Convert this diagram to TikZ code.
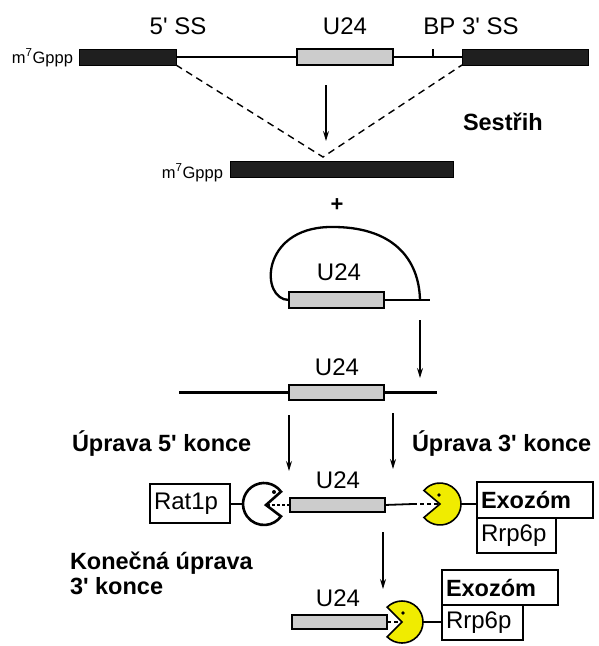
\documentclass[tikz,border=0pt]{standalone}
\usepackage{fontspec}
\setmainfont{Liberation Sans}[Ligatures=TeXOff]
\usetikzlibrary{arrows.meta,calc}
\definecolor{pacyellow}{RGB}{240,236,0}
\begin{document}
\begin{tikzpicture}[x=1pt,y=-1pt,
  every node/.style={inner sep=0pt, outer sep=0pt},
  lab/.style={font=\fontsize{24}{28}\selectfont},
  blab/.style={font=\bfseries\fontsize{23.5}{25}\selectfont, anchor=base west},
  capt/.style={font=\fontsize{16.5}{18}\selectfont, anchor=base east},
  exon/.style={draw=black, fill=black!88, line width=1pt, minimum height=16pt},
  snobox/.style={draw=black, fill=black!20, line width=2pt, minimum height=14pt, minimum width=95pt},
  rna/.style={line width=2.3pt},
  splice/.style={dash pattern=on 7pt off 5pt, line width=1.4pt},
  arr/.style={line width=1.3pt, -{Stealth[length=10pt,width=6pt]}},
  protbox/.style={draw, line width=1.8pt, fill=white, text width=#1, align=left, inner xsep=4pt},
  pacw/.style={draw=black, line width=2.6pt, fill=white},
  pacy/.style={draw=black, line width=1.6pt, fill=pacyellow},
  mouth/.style={line width=2.5pt, dash pattern=on 3pt off 2pt}
]
\useasboundingbox[fill=white] (0,0) rectangle (598,646);

% ---------- row 1: pre-mRNA ----------
\node[lab] (l5ss) at (178,26) {5' SS};
\node[lab] (lu1) at (345,26) {U24};
\node[lab] (lbp) at (471,26) {BP 3' SS};
\node[capt] (cap1) at (73,63) {m\textsuperscript{7}Gppp};
\node[exon, minimum width=97pt] (ex1) at (127.5,57) {};
\node[snobox, minimum height=16pt, minimum width=96pt] (u1) at (344.5,57) {};
\node[exon, minimum width=126pt] (ex2) at (525,57) {};
\draw[rna] (ex1.east) -- (u1.west);
\draw[rna] (u1.east) -- (ex2.west);
\coordinate (bp) at (433,57);
\draw[line width=1.8pt] (bp) -- ++(0,-8);

% splicing
\coordinate (junc) at (323,157);
\draw[splice] (ex1.south east) -- (junc) -- (ex2.south west);
\coordinate (a1s) at (326,85);
\coordinate (a1e) at (326,141);
\draw[arr] (a1s) -- (a1e);
\node[blab] (sest) at (463,130) {Sestřih};

% ---------- row 2: mRNA ----------
\node[capt] (cap2) at (223,178) {m\textsuperscript{7}Gppp};
\node[exon, minimum width=223pt] (mat) at (341.5,169) {};
\node[font=\bfseries\fontsize{22}{24}\selectfont] (plus) at (337,205) {+};

% ---------- row 3: lariat ----------
\node[snobox, minimum height=16pt] (u3) at (336.5,300) {};
\node[lab] (lu3) at (339,272) {U24};
\coordinate (loopend) at (420,300);
\coordinate (tail3) at (430,300);
\draw[rna] (u3.east) -- (tail3);
\draw[rna] (u3.west) .. controls (260,300) and (260,228) .. (330,227)
  .. controls (392,226) and (419,258) .. (loopend);
\coordinate (a2s) at (420,320);
\coordinate (a2e) at (420,378);
\draw[arr] (a2s) -- (a2e);

% ---------- row 4: linear ----------
\coordinate (l4a) at (179,392.5);
\coordinate (l4b) at (437,392.5);
\node[snobox, minimum height=15pt] (u4) at (336.5,392.5) {};
\draw[rna] (l4a) -- (u4.west);
\draw[rna] (u4.east) -- (l4b);
\node[lab] (lu4) at (337,367) {U24};
\coordinate (a3s) at (289,415);
\coordinate (a3e) at (289,471);
\draw[arr] (a3s) -- (a3e);
\coordinate (a4s) at (393,413);
\coordinate (a4e) at (393,469);
\draw[arr] (a4s) -- (a4e);
\node[blab] (up5) at (72,451) {Úprava 5' konce};
\node[blab] (up3) at (412,451) {Úprava 3' konce};

% ---------- row 5: trimming ----------
\node[protbox=72pt, minimum height=39pt, font=\fontsize{24}{28}\selectfont] (rat) at (190,503.5) {Rat1p};
\node[snobox] (u5) at (337,505) {};
\node[lab] (lu5) at (338,480) {U24};
\coordinate (pc1) at (264,504);
\coordinate (pc1w) at (243,504);
\draw[rna] (rat.east |- pc1) -- (pc1w);
\draw[pacw] ($(pc1)+(2,1)$) -- ($(pc1)+(36:21pt)$) arc[start angle=36, end angle=324, radius=21pt] -- cycle;
\fill ($(pc1)+(10,-12)$) circle[radius=2pt];
\draw[mouth] ($(pc1)+(3,1)$) -- (u5.west);

\coordinate (pc2) at (440,504);
\coordinate (pc2e) at (461,504);
\coordinate (mid5) at (413,504);
\draw[line width=1.8pt] (u5.east) -- (mid5);
\node[protbox=108pt, minimum height=36pt, font=\bfseries\fontsize{23.5}{26}\selectfont] (exo1) at (535,500) {Exozóm};
\node[protbox=71pt, minimum height=35pt, font=\fontsize{24}{28}\selectfont] (rrp1) at (516.5,535.5) {Rrp6p};
\draw[rna] (pc2e) -- (pc2e -| exo1.west);
\draw[pacy] (pc2) -- ($(pc2)+(-140:21pt)$) arc[start angle=-140, end angle=140, radius=21pt] -- cycle;
\fill ($(pc2)+(-1,-9)$) circle[radius=1.8pt];
\draw[mouth, dash pattern=on 4pt off 3pt] (mid5) -- ($(pc2)+(-2,0)$);

\coordinate (a5s) at (383,532);
\coordinate (a5e) at (383,589);
\draw[arr] (a5s) -- (a5e);

% ---------- row 6: final ----------
\node[blab] (kon1) at (70,569) {Konečná úprava};
\node[blab] (kon2) at (70,594) {3' konce};
\node[snobox] (u6) at (339.5,622) {};
\node[lab] (lu6) at (338,598) {U24};
\node[protbox=108pt, minimum height=35pt, font=\bfseries\fontsize{23.5}{26}\selectfont] (exo2) at (500,587.5) {Exozóm};
\node[protbox=73pt, minimum height=35pt, font=\fontsize{24}{28}\selectfont] (rrp2) at (482.5,622.5) {Rrp6p};
\coordinate (pc3) at (402,622);
\coordinate (pc3e) at (423,622);
\draw[rna] (pc3e) -- (pc3e -| rrp2.west);
\draw[pacy] (pc3) -- ($(pc3)+(-135:21pt)$) arc[start angle=-135, end angle=135, radius=21pt] -- cycle;
\fill ($(pc3)+(1,-9)$) circle[radius=1.8pt];
\draw[mouth, dash pattern=on 4pt off 3pt] (u6.east) -- (pc3);
\end{tikzpicture}
\end{document}
